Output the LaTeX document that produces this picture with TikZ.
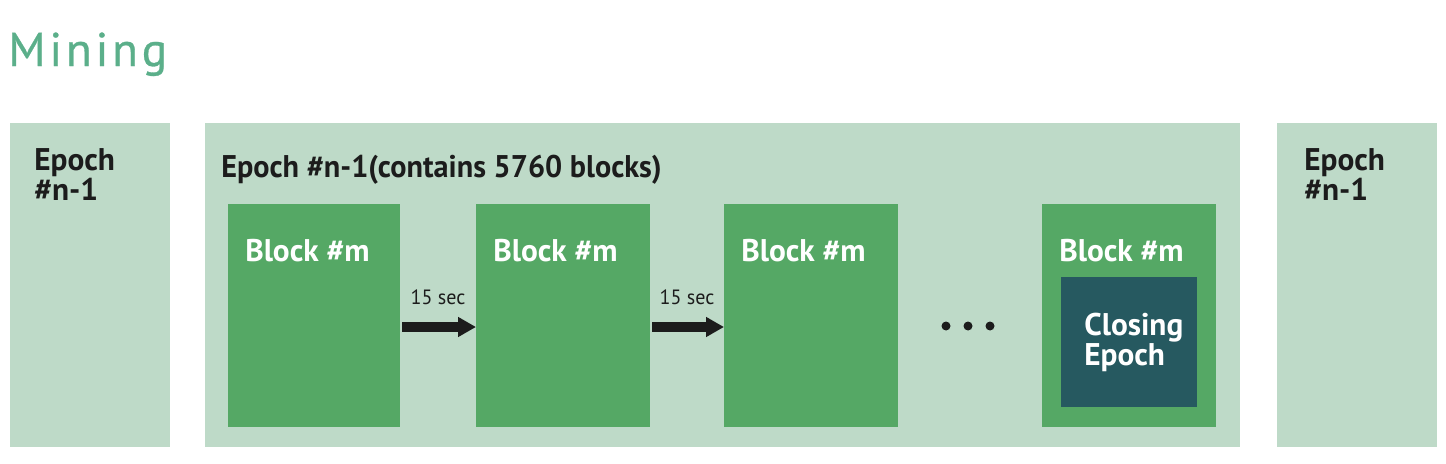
\documentclass[tikz,border=0pt]{standalone}
\usepackage{fontspec}
\setmainfont{PT Sans}
\newfontfamily\dinb[FakeStretch=1.0]{PT Sans Bold}
\newfontfamily\dinbt[FakeStretch=0.965]{PT Sans Bold}
\newfontfamily\dinr[FakeStretch=0.97]{PT Sans}
\newfontfamily\minfont[LetterSpace=8,FakeBold=0.6]{PT Sans}
\usetikzlibrary{arrows.meta,calc}
\definecolor{lightg}{HTML}{BEDAC8}
\definecolor{blockg}{HTML}{55A865}
\definecolor{darkt}{HTML}{265960}
\definecolor{titleg}{HTML}{5BAF8A}
\definecolor{ink}{HTML}{1C1C1C}
\tikzset{
  panel/.style={fill=lightg, draw=none, inner sep=0pt, outer sep=0pt, anchor=north west, minimum width=120pt, minimum height=243pt},
  blockbox/.style={fill=blockg, draw=none, inner sep=0pt, outer sep=0pt, anchor=north west, minimum width=129.75pt, minimum height=167.25pt},
  closebox/.style={fill=darkt, draw=none, inner sep=0pt, outer sep=0pt, anchor=north west, minimum width=102pt, minimum height=97.5pt},
  dark/.style={text=ink, inner sep=0pt, anchor=base west, align=left, font=\dinb\fontsize{23.5pt}{21pt}\selectfont},
  light/.style={text=white, inner sep=0pt, anchor=base west, align=left, font=\dinb\fontsize{23.5pt}{21pt}\selectfont},
  arr/.style={draw=ink, line width=7.5pt, -{Triangle[length=13.5pt,width=14.25pt]}, shorten <=1.5pt},
  lbl/.style={text=ink, inner sep=0pt, anchor=base, font=\dinr\fontsize{15.5pt}{18pt}\selectfont},
  dot/.style={circle, fill=ink, inner sep=0pt, minimum size=6.75pt}
}
\begin{document}
\begin{tikzpicture}[x=0.75pt,y=-0.75pt]
\useasboundingbox (0,0) rectangle (1446,464);
\fill[white] (0,0) rectangle (1446,464);

\node[text=titleg, inner sep=0pt, anchor=base west, font=\minfont\fontsize{35.5pt}{40pt}\selectfont] (title) at (8,66) {Mining};

\node[panel] (left) at (10,123) {};
\node[panel, minimum width=776.25pt] (mid) at (205,123) {};
\node[panel] (right) at (1277,123) {};

\node[dark] (lt) at (34,200) {Epoch\\\#n-1};
\node[dark] (rt) at (1304,200) {Epoch\\\#n-1};
\node[dark, font=\dinbt\fontsize{23.5pt}{21pt}\selectfont] (mt) at (221,177) {Epoch \#n-1(contains 5760 blocks)};

\node[blockbox, minimum width=129pt] (b1) at (228,204) {};
\node[blockbox, minimum width=130.5pt] (b2) at (476,204) {};
\node[blockbox, minimum width=130.5pt] (b3) at (724,204) {};
\node[blockbox, minimum width=130.5pt] (b4) at (1042,204) {};
\node[closebox] (cl) at (1061,277) {};

\node[light] (b1t) at (245,261) {Block \#m};
\node[light] (b2t) at (493,261) {Block \#m};
\node[light] (b3t) at (741,261) {Block \#m};
\node[light] (b4t) at (1059,261) {Block \#m};
\node[light, font=\dinb\fontsize{23.5pt}{22.5pt}\selectfont] (ct) at (1084,365) {Closing\\Epoch};

\coordinate (y) at (0,327);
\draw[arr] (b1.east |- y) -- (b2.west |- y) node[lbl, midway, yshift=17.25pt] (s1) {15 sec};
\draw[arr] (b2.east |- y) -- (b3.west |- y) node[lbl, midway, yshift=17.25pt] (s2) {15 sec};

\node[dot] (d1) at (946,326) {};
\node[dot] (d2) at (968,326) {};
\node[dot] (d3) at (990,326) {};
\end{tikzpicture}
\end{document}
